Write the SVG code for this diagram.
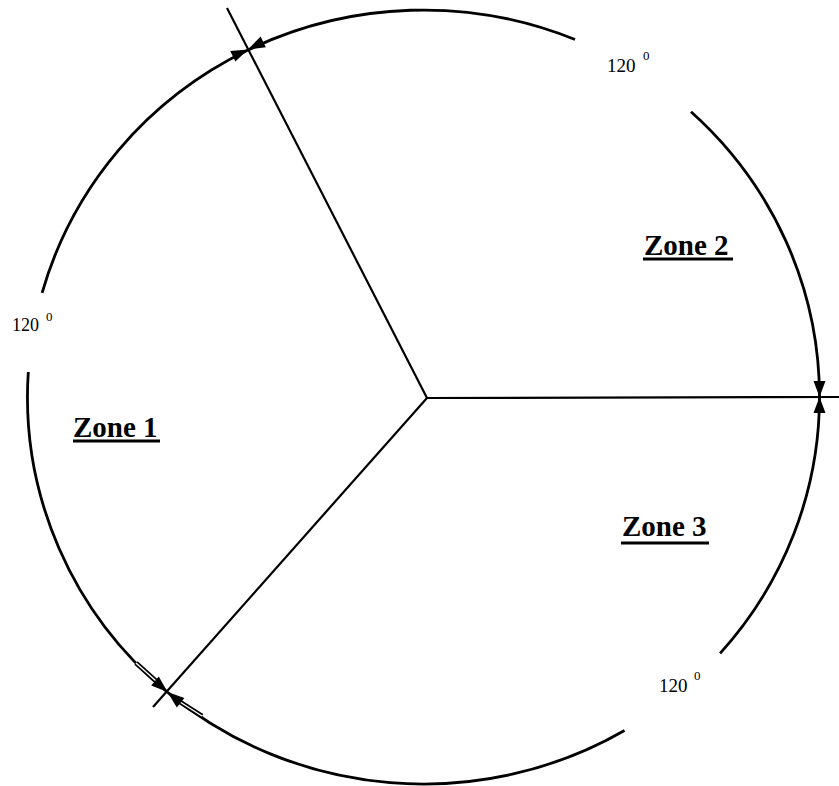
<svg xmlns="http://www.w3.org/2000/svg" width="839" height="786" viewBox="0 0 839 786">
<style>
.arc{fill:none;stroke:#000;stroke-width:2.8;stroke-linecap:butt}
.rad{fill:none;stroke:#000;stroke-width:2.2}
.ah{fill:#000;stroke:none}
.deg{font-family:"Liberation Serif","Times New Roman",serif;fill:#000}
.zone{font-family:"Liberation Serif","Times New Roman",serif;font-weight:bold;font-size:29px;fill:#000}
.ul{stroke:#000;stroke-width:2.8}
</style>
<rect width="839" height="786" fill="#fff"/>
<g id="circle">
<path class="arc" d="M 819.5 397 A 396 387 0 0 1 720.1 653.4"/>
<path class="arc" d="M 624.5 730.5 A 396 387 0 0 1 167.9 692.6"/>
<path class="arc" d="M 167.9 692.6 A 396 387 0 0 1 28.3 372.0"/>
<path class="arc" d="M 42.1 292.9 A 396 387 0 0 1 248.0 50.1"/>
<path class="arc" d="M 248.0 50.1 A 396 387 0 0 1 575.0 39.5"/>
<path class="arc" d="M 691.0 111.7 A 396 387 0 0 1 819.5 397"/>
<line x1="136" y1="663" x2="156" y2="681" stroke="#000" stroke-width="4.8"/>
<line x1="136" y1="663" x2="156" y2="681" stroke="#fff" stroke-width="1.4"/>
<line x1="180" y1="702" x2="202" y2="716" stroke="#000" stroke-width="4.8"/>
<line x1="180" y1="702" x2="202" y2="716" stroke="#fff" stroke-width="1.4"/>
</g>
<g id="connectors">
<line class="rad" x1="427" y1="398" x2="227" y2="8"/>
<line class="rad" x1="427" y1="398" x2="153" y2="707"/>
<line class="rad" x1="427" y1="398" x2="839" y2="397"/>
</g>
<g id="arrowheads">
<polygon class="ah" points="248,49.5 235.4,61.6 230.2,51.0"/>
<polygon class="ah" points="248,49.5 265.8,47.2 260.6,36.6"/>
<polygon class="ah" points="819.5,397 813.5,381 825.5,381"/>
<polygon class="ah" points="819.5,397 813.5,413 825.5,413"/>
<polygon class="ah" points="167.5,692 158.8,676.4 151.2,685.6"/>
<polygon class="ah" points="167.5,692 184.4,698 176.8,707.4"/>
</g>
<g id="angle-top">
<text class="deg" x="607" y="72" font-size="19">120</text>
<text class="deg" x="643" y="60" font-size="13">0</text>
</g>
<g id="angle-left">
<text class="deg" x="12" y="331" font-size="18">120</text>
<text class="deg" x="46" y="321" font-size="13">0</text>
</g>
<g id="angle-bottom">
<text class="deg" x="659" y="692" font-size="19">120</text>
<text class="deg" x="694" y="680" font-size="13">0</text>
</g>
<g id="zone1">
<text class="zone" x="73" y="437">Zone 1</text>
<line class="ul" x1="73" y1="441" x2="160" y2="441"/>
</g>
<g id="zone2">
<text class="zone" x="644" y="255">Zone 2</text>
<line class="ul" x1="643" y1="259" x2="733" y2="259"/>
</g>
<g id="zone3">
<text class="zone" x="622" y="536">Zone 3</text>
<line class="ul" x1="621" y1="543" x2="709" y2="543"/>
</g>
</svg>
